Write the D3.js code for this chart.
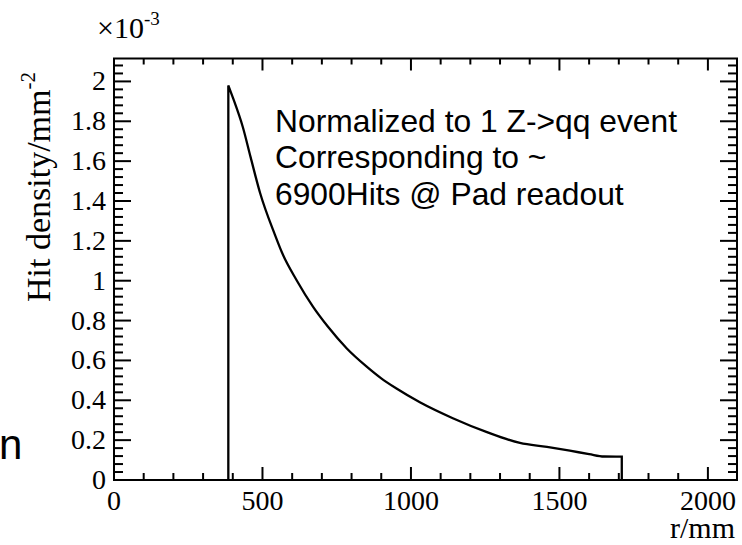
<!DOCTYPE html>
<html><head><meta charset="utf-8">
<script src="https://cdn.jsdelivr.net/npm/d3@7"></script>
<style>body{margin:0;background:#fff}svg{display:block}</style></head>
<body><svg id="c" width="742" height="545"></svg>
<script>
// ---- data ----
const radius  = [385, 400, 434, 460, 492, 542, 566, 616, 670, 720, 784, 850, 900, 950, 1030, 1141, 1256, 1367, 1458, 1535, 1600, 1650, 1710];
const density = [1.98, 1.92, 1.77, 1.62, 1.44, 1.23, 1.14, 1.00, 0.87, 0.77, 0.66, 0.57, 0.51, 0.46, 0.39, 0.31, 0.24, 0.186, 0.166, 0.147, 0.13, 0.118, 0.117];
const xTickValues = [0, 500, 1000, 1500, 2000];
const xTickLabels = ["0", "500", "1000", "1500", "2000"];
const yTickValues = [0, 0.2, 0.4, 0.6, 0.8, 1, 1.2, 1.4, 1.6, 1.8, 2];
const yTickLabels = ["0", "0.2", "0.4", "0.6", "0.8", "1", "1.2", "1.4", "1.6", "1.8", "2"];
const noteLines = ["Normalized to 1 Z->qq event", "Corresponding to ~", "6900Hits @ Pad readout"];

// ---- layout ----
const L = 114, R = 737, T = 58.5, B = 480;
const svg = d3.select("#c");
const x = d3.scaleLinear().domain([0, 2098]).range([L, R]);
const y = d3.scaleLinear().domain([0, 2.115]).range([B, T]);
const serif = "'Liberation Serif','Times New Roman',serif";
const sans = "'Liberation Sans',Arial,sans-serif";

const xMinor = d3.range(0, 2098, 100);
const yMinor = d3.range(0, 2.115, 0.04);

const g = svg.append("g").attr("stroke", "#000").attr("stroke-width", 2).attr("fill", "none");
xMinor.forEach(v => {
  const major = Math.abs(v % 500) < 1e-6;
  const xx = x(v);
  g.append("line").attr("x1", xx).attr("x2", xx).attr("y1", B).attr("y2", B - (major ? 13 : 7));
  g.append("line").attr("x1", xx).attr("x2", xx).attr("y1", T).attr("y2", T + (major ? 12 : 6));
});
yMinor.forEach((v, i) => {
  const major = i % 5 === 0;
  const yy = y(v);
  g.append("line").attr("x1", L).attr("x2", L + (major ? 17 : 9)).attr("y1", yy).attr("y2", yy);
  g.append("line").attr("x1", R).attr("x2", R - (major ? 17 : 9)).attr("y1", yy).attr("y2", yy);
});

// histogram curve: vertical rise, smooth fall-off, vertical drop
const pts = radius.map((r, i) => [r, density[i]]);
const inner = d3.line().x(d => x(d[0])).y(d => y(d[1])).curve(d3.curveMonotoneX)(pts);
const first = pts[0], last = pts[pts.length - 1];
const d = `M${x(first[0])},${y(0)}L` + inner.slice(1) + `L${x(last[0])},${y(0)}`;
svg.append("path").attr("d", d)
  .attr("fill", "none").attr("stroke", "#000").attr("stroke-width", 2.3).attr("stroke-linejoin", "miter");

// frame
svg.append("rect").attr("x", L).attr("y", T).attr("width", R - L).attr("height", B - T)
  .attr("fill", "none").attr("stroke", "#000").attr("stroke-width", 2);

// tick labels
svg.selectAll(".xl").data(xTickValues).enter().append("text")
  .attr("x", v => x(v)).attr("y", 510).attr("text-anchor", "middle")
  .attr("font-family", serif).attr("font-size", 28).text((v, i) => xTickLabels[i]);
svg.selectAll(".yl").data(yTickValues).enter().append("text")
  .attr("x", 106).attr("y", v => y(v) + 9).attr("text-anchor", "end")
  .attr("font-family", serif).attr("font-size", 28).text((v, i) => yTickLabels[i]);

// exponent
const ex = svg.append("text").attr("x", 97).attr("y", 38).attr("font-family", serif).attr("font-size", 30);
ex.append("tspan").text("\u00d710");
ex.append("tspan").attr("dy", -13).attr("font-size", 19).text("-3");

// axis titles
const yt = svg.append("text").attr("transform", "translate(50,302) rotate(-90)")
  .attr("font-family", serif).attr("font-size", 34);
yt.append("tspan").text("Hit density/mm");
yt.append("tspan").attr("dy", -15).attr("font-size", 21).text("-2");

svg.append("text").attr("x", 735).attr("y", 538).attr("text-anchor", "end")
  .attr("font-family", serif).attr("font-size", 30).text("r/mm");

// annotation
svg.selectAll(".note").data(noteLines).enter().append("text")
  .attr("x", 275).attr("y", (v, i) => 131.5 + i * 36.7)
  .attr("font-family", sans).attr("font-size", 31.8).text(v => v);

// stray clipped text at left
svg.append("text").attr("x", -1).attr("y", 459).attr("font-family", sans).attr("font-size", 42).text("n");
</script></body></html>
